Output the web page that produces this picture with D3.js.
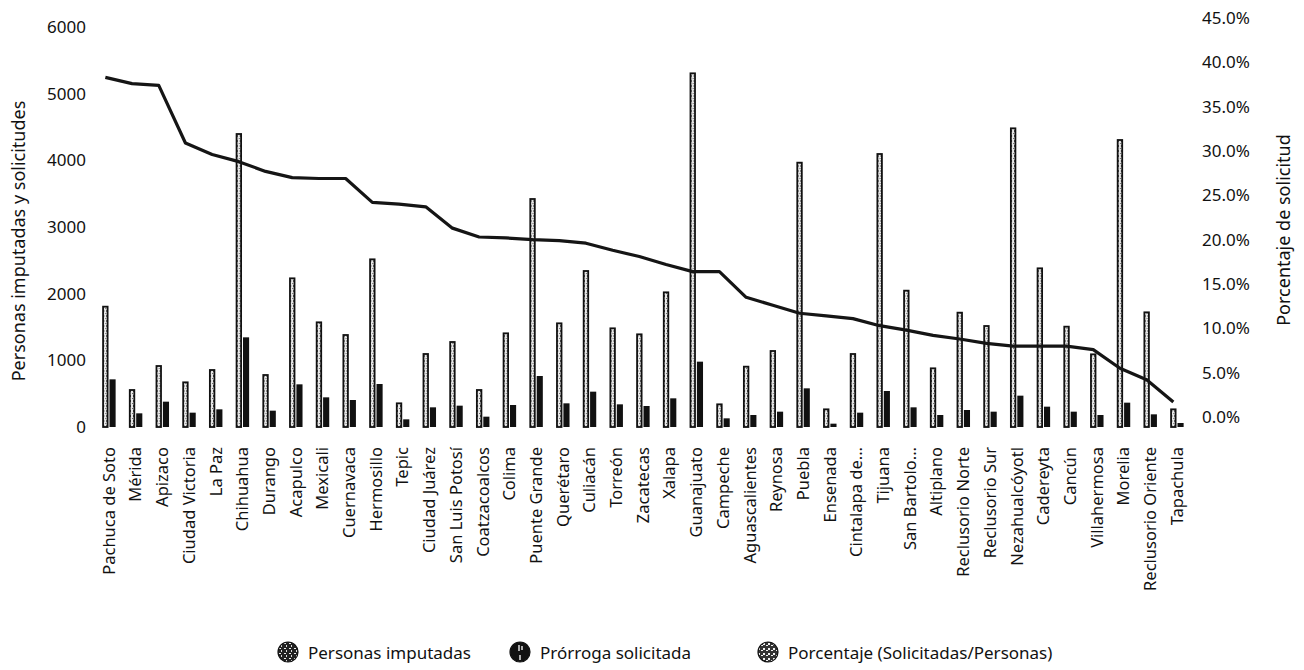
<!DOCTYPE html>
<html>
<head>
<meta charset="utf-8">
<script src="https://cdn.jsdelivr.net/npm/d3@7"></script>
<style>
  html, body { margin: 0; padding: 0; background: #fff; }
  svg { display: block; }
  text { font-family: "Noto Sans", "Open Sans", sans-serif; fill: #111; }
</style>
</head>
<body>
<svg id="chart" width="1304" height="670"></svg>
<script>
// Centros y personas imputadas / prórrogas solicitadas
const categories = [
  "Pachuca de Soto", "Mérida", "Apizaco", "Ciudad Victoria", "La Paz", "Chihuahua",
  "Durango", "Acapulco", "Mexicali", "Cuernavaca", "Hermosillo", "Tepic",
  "Ciudad Juárez", "San Luis Potosí", "Coatzacoalcos", "Colima", "Puente Grande",
  "Querétaro", "Culiacán", "Torreón", "Zacatecas", "Xalapa", "Guanajuato",
  "Campeche", "Aguascalientes", "Reynosa", "Puebla", "Ensenada", "Cintalapa de...",
  "Tijuana", "San Bartolo...", "Altiplano", "Reclusorio Norte", "Reclusorio Sur",
  "Nezahualcóyotl", "Cadereyta", "Cancún", "Villahermosa", "Morelia",
  "Reclusorio Oriente", "Tapachula"
];

const personasImputadas = [
  1805, 555, 915, 670, 855, 4395, 780, 2230, 1570, 1380, 2515, 355, 1095, 1275,
  555, 1405, 3420, 1555, 2340, 1480, 1390, 2020, 5305, 340, 905, 1140, 3965, 265,
  1095, 4095, 2045, 880, 1715, 1515, 4480, 2380, 1505, 1090, 4305, 1720, 265
];

const prorrogaSolicitada = [
  715, 205, 380, 215, 265, 1345, 245, 640, 445, 405, 645, 115, 295, 320,
  155, 330, 765, 355, 530, 340, 315, 430, 980, 130, 180, 230, 580, 50,
  215, 540, 295, 180, 255, 230, 470, 305, 230, 180, 365, 190, 60
];

// Porcentaje (Solicitadas/Personas)
const porcentaje = [
  0.383, 0.376, 0.374, 0.309, 0.296, 0.288, 0.277, 0.270, 0.269, 0.269, 0.242,
  0.240, 0.237, 0.213, 0.203, 0.202, 0.200, 0.199, 0.196, 0.188, 0.181, 0.172,
  0.164, 0.164, 0.135, 0.126, 0.117, 0.114, 0.111, 0.103, 0.098, 0.092, 0.088,
  0.083, 0.080, 0.080, 0.080, 0.076, 0.055, 0.042, 0.017
];

const leftTicks = [0, 1000, 2000, 3000, 4000, 5000, 6000];
const rightTicks = [0, 0.05, 0.10, 0.15, 0.20, 0.25, 0.30, 0.35, 0.40, 0.45];

const legendItems = ["Personas imputadas", "Prórroga solicitada", "Porcentaje (Solicitadas/Personas)"];

const rows = categories.map((c, i) => ({
  cat: c, personas: personasImputadas[i], prorroga: prorrogaSolicitada[i], pct: porcentaje[i]
}));

const svg = d3.select("#chart");
const defs = svg.append("defs");

// Textura con motas para las barras de personas
const pLight = defs.append("pattern").attr("id", "speckLight")
  .attr("patternUnits", "userSpaceOnUse").attr("width", 3).attr("height", 5);
pLight.append("rect").attr("width", 3).attr("height", 5).attr("fill", "#e8e8e8");
pLight.append("rect").attr("x", 1).attr("y", 0).attr("width", 1).attr("height", 2).attr("fill", "#444");
pLight.append("rect").attr("x", 0).attr("y", 3).attr("width", 1).attr("height", 1).attr("fill", "#666");

// Texturas para los iconos de la leyenda
const pDark = defs.append("pattern").attr("id", "speckDark")
  .attr("patternUnits", "userSpaceOnUse").attr("width", 5).attr("height", 5);
pDark.append("rect").attr("width", 5).attr("height", 5).attr("fill", "#222");
pDark.append("rect").attr("x", 1).attr("y", 1).attr("width", 2).attr("height", 1).attr("fill", "#eee");
pDark.append("rect").attr("x", 3).attr("y", 3).attr("width", 1).attr("height", 2).attr("fill", "#ddd");

const pMid = defs.append("pattern").attr("id", "speckMid")
  .attr("patternUnits", "userSpaceOnUse").attr("width", 5).attr("height", 5);
pMid.append("rect").attr("width", 5).attr("height", 5).attr("fill", "#333");
pMid.append("rect").attr("x", 0).attr("y", 1).attr("width", 2).attr("height", 2).attr("fill", "#f2f2f2");
pMid.append("rect").attr("x", 3).attr("y", 3).attr("width", 2).attr("height", 1).attr("fill", "#f2f2f2");

// Escalas
const x = d3.scaleBand().domain(categories).range([95.6, 1190.3])
  .paddingInner(0.5).paddingOuter(0.25);
const x1 = d3.scaleBand().domain(["personas", "prorroga"]).range([0, x.bandwidth()]).paddingInner(0.15);
const yL = d3.scaleLinear().domain([0, 6000]).range([427, 27]);
const yR = d3.scaleLinear().domain([0, 0.45]).range([417, 18]);

// Barras
const groups = svg.append("g").selectAll("g").data(rows).join("g")
  .attr("transform", d => `translate(${x(d.cat)},0)`);

groups.append("rect")
  .attr("x", x1("personas") + 0.8)
  .attr("width", x1.bandwidth() - 1.6)
  .attr("y", d => yL(d.personas))
  .attr("height", d => yL(0) - yL(d.personas))
  .attr("fill", "url(#speckLight)")
  .attr("stroke", "#111")
  .attr("stroke-width", 1.8);

groups.append("rect")
  .attr("x", x1("prorroga"))
  .attr("width", x1.bandwidth())
  .attr("y", d => yL(d.prorroga))
  .attr("height", d => yL(0) - yL(d.prorroga))
  .attr("fill", "#111");

// Línea de porcentaje (eje secundario)
const line = d3.line()
  .x(d => x(d.cat) + x1("personas") + x1.bandwidth() / 2)
  .y(d => yR(d.pct));

svg.append("path").datum(rows)
  .attr("d", line)
  .attr("fill", "none")
  .attr("stroke", "#151515")
  .attr("stroke-width", 3.2)
  .attr("stroke-linejoin", "round");

// Eje izquierdo
const axL = svg.append("g").attr("transform", "translate(86,0)")
  .call(d3.axisLeft(yL).tickValues(leftTicks).tickSize(0).tickPadding(0).tickFormat(d3.format("d")));
axL.select(".domain").remove();
axL.selectAll("text").style("font-size", "17px").style("font-family", "'Noto Sans', sans-serif").attr("fill", "#111");

// Eje derecho
const axR = svg.append("g").attr("transform", "translate(1202,0)")
  .call(d3.axisRight(yR).tickValues(rightTicks).tickSize(0).tickPadding(0).tickFormat(d3.format(".1%")));
axR.select(".domain").remove();
axR.selectAll("text").style("font-size", "17px").style("font-family", "'Noto Sans', sans-serif").attr("fill", "#111");

// Etiquetas de categorías
const axB = svg.append("g").attr("transform", "translate(0,440)")
  .call(d3.axisBottom(x).tickSize(0).tickPadding(0));
axB.select(".domain").remove();
axB.selectAll("text")
  .attr("transform", "rotate(-90)")
  .attr("x", -7).attr("y", 0).attr("dy", "0.35em")
  .attr("text-anchor", "end")
  .style("font-size", "16.5px")
  .style("font-family", "'Noto Sans', sans-serif")
  .attr("fill", "#111");

// Títulos de ejes
svg.append("text")
  .attr("transform", "translate(18,241) rotate(-90)")
  .attr("text-anchor", "middle").attr("dominant-baseline", "central")
  .style("font-size", "18px")
  .text("Personas imputadas y solicitudes");

svg.append("text")
  .attr("transform", "translate(1283,230) rotate(-90)")
  .attr("text-anchor", "middle").attr("dominant-baseline", "central")
  .style("font-size", "18px")
  .text("Porcentaje de solicitud");

// Leyenda
const legendX = [288, 520, 768];
const legendFill = ["url(#speckDark)", "#111", "url(#speckMid)"];
const lg = svg.append("g").selectAll("g").data(legendItems).join("g")
  .attr("transform", (d, i) => `translate(${legendX[i]},652)`);
lg.append("circle").attr("r", 10)
  .attr("fill", (d, i) => legendFill[i])
  .attr("stroke", "#111").attr("stroke-width", 1.2);
lg.filter((d, i) => i === 1).append("path")
  .attr("d", "M-1,-7V-1M2,-6V-2M0,3V8")
  .attr("stroke", "#fff").attr("stroke-width", 1.3);
lg.append("text")
  .attr("x", 20).attr("dominant-baseline", "central")
  .style("font-size", "17px")
  .text(d => d);
</script>
</body>
</html>
